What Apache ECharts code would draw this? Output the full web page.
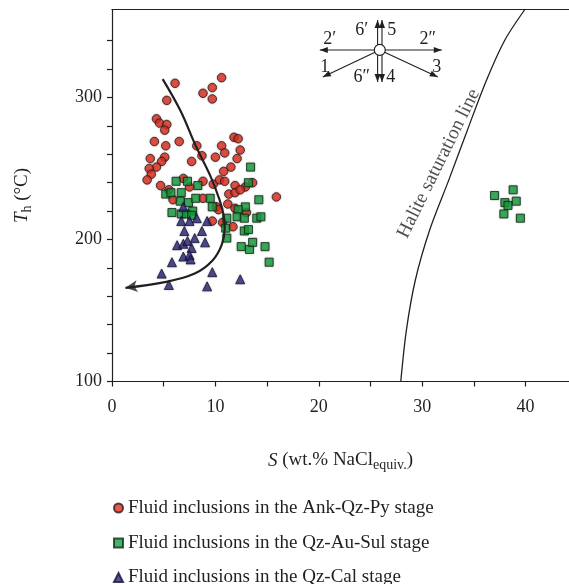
<!DOCTYPE html>
<html>
<head>
<meta charset="utf-8">
<script src="https://cdn.jsdelivr.net/npm/echarts@6/dist/echarts.min.js"></script>
<style>
  html, body { margin: 0; padding: 0; background: #ffffff; }
  #chart { width: 569px; height: 584px; }
</style>
</head>
<body>
<div id="chart"></div>
<script>
// Homogenization temperature vs. salinity of fluid inclusions, by ore stage

// Ank-Qz-Py stage: [salinity wt.% NaCl equiv., Th °C]
const ankQzPy = [
  [10.6,314],[6.1,310],[9.7,307],[8.8,303],[9.7,299],[5.3,298],[4.3,285],[4.6,282],
  [5.3,281],[5.1,277],[4.1,269],[6.5,269],[8.2,266],[5.2,266],[11.8,272],[12.2,271],
  [10.6,266],[10.9,261],[12.4,263],[3.7,257],[5.1,258],[4.8,255],[7.7,255],[8.7,259],
  [10.0,258],[12.1,257],[4.3,251],[3.6,250],[3.8,246],[11.5,251],[10.8,248],[3.4,242],
  [8.8,241],[4.7,238],[6.9,243],[9.8,239],[10.4,242],[10.9,241],[11.9,238],[12.9,237],
  [13.6,240],[7.5,237],[11.3,232],[11.9,233],[12.4,235],[5.5,235],[15.9,230],[5.9,228],
  [8.8,229],[10.1,223],[11.2,225],[11.9,222],[10.3,221],[13.0,219],[11.7,209],[10.7,212],
  [9.7,213]
];

// Qz-Au-Sul stage
const qzAuSul = [
  [13.4,251],[13.2,240],[6.2,241],[7.3,241],[8.3,238],[5.2,232],[5.7,233],[6.7,233],
  [6.6,227],[7.4,226],[8.1,229],[9.5,229],[14.2,228],[9.7,223],[12.9,223],[12.2,221],
  [5.8,219],[6.7,218],[7.2,218],[7.8,220],[7.7,217],[11.1,215],[12.1,216],[12.8,215],
  [14.0,215],[14.4,216],[11.0,208],[12.8,206],[13.2,207],[11.1,201],[12.5,195],[13.3,193],
  [13.6,198],[14.8,195],[15.2,184],
  [37.0,231],[38.8,235],[38.0,226],[38.3,224],[39.1,227],[37.9,218],[39.5,215]
];

// Qz-Cal stage
const qzCal = [
  [6.9,223],[6.7,213],[7.5,213],[8.2,215],[9.2,213],[7.0,206],[8.7,206],[8.0,201],
  [6.3,196],[6.9,197],[7.3,199],[7.7,194],[9.0,198],[6.9,188],[7.5,189],[7.6,186],
  [5.8,184],[4.8,176],[5.5,168],[9.7,177],[9.2,167],[12.4,172]
];

// Halite saturation curve
const haliteLine = [
  [27.93,100],[28.47,136],[29.34,171.5],[30.74,207],[32.58,242],[34.37,277],
  [36.21,312],[38.0,340.5],[39.93,362]
];

// Fluid evolution trend (ends with an arrow)
const evolutionPath = [
  [4.9,313],[6.6,291],[8.1,266],[9.5,245],[10.4,228],[10.8,217],[10.9,208],
  [10.6,196],[9.7,185],[8.0,176],[5.1,170],[1.3,166]
];

// Axis ticks and labels
const xTicks = [0,5,10,15,20,25,30,35,40];
const xTickLabels = [0,10,20,30,40];
const yTicks = [100,120,140,160,180,200,220,240,260,280,300,320,340];
const yTickLabels = [100,200,300];

// Legend entries
const stageNames = [
  'Fluid inclusions in the Ank-Qz-Py stage',
  'Fluid inclusions in the Qz-Au-Sul stage',
  'Fluid inclusions in the Qz-Cal stage'
];

// Anchor of the process-vector sketch and of the curve caption
const sketchAnchor = [[25.9,333.5]];
const haliteCaption = [[31.6,253.5]];

const FONT = '"Liberation Serif", "DejaVu Serif", serif';
const INK = '#231f20';
const X_MIN = 0, X_MAX = 44.2, Y_MIN = 100, Y_MAX = 362;

function drawSketch(params, api) {
  const c = api.coord([api.value(0), api.value(1)]);
  const cx = c[0], cy = c[1];
  const kids = [];
  const stroke = { stroke: INK, lineWidth: 1.1 };
  function seg(x1, y1, x2, y2) {
    kids.push({ type: 'line', shape: { x1: cx + x1, y1: cy + y1, x2: cx + x2, y2: cy + y2 }, style: stroke });
  }
  function head(fx, fy, tx, ty) {
    const dx = tx - fx, dy = ty - fy, len = Math.hypot(dx, dy);
    const ux = dx / len, uy = dy / len, L = 8, w = 3;
    const bx = tx - ux * L, by = ty - uy * L;
    kids.push({ type: 'polygon', shape: { points: [
      [cx + tx, cy + ty], [cx + bx - uy * w, cy + by + ux * w], [cx + bx + uy * w, cy + by - ux * w]
    ] }, style: { fill: INK } });
  }
  function arrow(x1, y1, x2, y2) { seg(x1, y1, x2, y2); head(x1, y1, x2, y2); }
  // horizontal arms 2' and 2''
  arrow(0, 0, -60, 0);
  arrow(0, 0, 62, 0);
  // oblique arms 1 and 3
  arrow(0, 0, -57, 27);
  arrow(0, 0, 58, 27);
  // double vertical arms 5/6' (up) and 4/6'' (down)
  [-2.2, 2.2].forEach(function (ox) {
    arrow(ox, 0, ox, -30);
    arrow(ox, 0, ox, 32);
  });
  kids.push({ type: 'circle', shape: { cx: cx, cy: cy, r: 5.5 }, style: { fill: '#ffffff', stroke: INK, lineWidth: 1.2 } });
  const labels = [
    ['2\u2032', -50, -11], ['1', -55, 17], ['6\u2032', -18, -20], ['5', 12, -20],
    ['2\u2033', 48, -11], ['3', 57, 17], ['6\u2033', -18, 27], ['4', 11, 27]
  ];
  labels.forEach(function (l) {
    kids.push({ type: 'text', x: cx + l[1], y: cy + l[2], style: {
      text: l[0], fill: INK, font: '18px ' + FONT, align: 'center', verticalAlign: 'middle'
    } });
  });
  return { type: 'group', children: kids };
}

const markerShadow = { shadowBlur: 2, shadowColor: 'rgba(0,0,0,0.3)' };
const legendIcons = ['circle', 'rect', 'triangle'];
const legendRowTop = [498.5, 533.5, 568];

const nameStyle = {
  fontFamily: FONT, fontSize: 19, color: INK,
  rich: {
    i: { fontFamily: FONT, fontSize: 19, fontStyle: 'italic', color: INK },
    sub: { fontFamily: FONT, fontSize: 14, color: INK, padding: [10, 0, 0, 0] }
  }
};

const chart = echarts.init(document.getElementById('chart'), null, { renderer: 'canvas' });

chart.setOption({
  animation: false,
  backgroundColor: '#ffffff',
  textStyle: { fontFamily: FONT, color: INK },
  grid: { left: 112, right: 0, top: 9.5, bottom: 202.5 },
  xAxis: [{
    type: 'value', min: X_MIN, max: X_MAX, position: 'bottom',
    name: '{i|S} (wt.% NaCl{sub|equiv.})',
    nameLocation: 'middle', nameGap: 67,
    nameTextStyle: nameStyle,
    splitLine: { show: false },
    axisLine: { show: true, lineStyle: { color: INK, width: 1.2 } },
    axisTick: { show: true, inside: false, length: 5, customValues: xTicks, lineStyle: { color: INK, width: 1.2 } },
    axisLabel: { show: true, customValues: xTickLabels, margin: 17, fontSize: 18, fontFamily: FONT, color: INK }
  }, {
    type: 'value', min: X_MIN, max: X_MAX, position: 'top',
    axisLine: { show: true, lineStyle: { color: INK, width: 1.2 } },
    axisTick: { show: false }, axisLabel: { show: false }, splitLine: { show: false }
  }],
  yAxis: {
    type: 'value', min: Y_MIN, max: Y_MAX,
    name: '{i|T}{sub|h} (\u00b0C)',
    nameLocation: 'middle', nameGap: 78, nameRotate: 90,
    nameTextStyle: nameStyle,
    splitLine: { show: false },
    axisLine: { show: true, lineStyle: { color: INK, width: 1.2 } },
    axisTick: { show: true, inside: false, length: 5, customValues: yTicks, lineStyle: { color: INK, width: 1.2 } },
    axisLabel: { show: true, customValues: yTickLabels, margin: 10, fontSize: 18, fontFamily: FONT, color: INK }
  },
  legend: stageNames.map(function (name, i) {
    return {
      orient: 'vertical', left: 113, top: legendRowTop[i], padding: 0,
      itemWidth: 9, itemHeight: 9,
      textStyle: { fontFamily: FONT, fontSize: 19, color: INK },
      data: [{ name: name, icon: legendIcons[i] }]
    };
  }),
  series: [
    {
      name: stageNames[0], type: 'scatter',
      symbol: 'circle', symbolSize: 8.5, data: ankQzPy,
      itemStyle: Object.assign({ color: '#e3301f', borderColor: '#2a1a1a', borderWidth: 1 }, markerShadow)
    },
    {
      name: stageNames[1], type: 'scatter',
      symbol: 'rect', symbolSize: 8, data: qzAuSul,
      itemStyle: Object.assign({ color: '#17a03e', borderColor: '#102a16', borderWidth: 1 }, markerShadow)
    },
    {
      name: stageNames[2], type: 'scatter',
      symbol: 'triangle', symbolSize: 9, data: qzCal,
      itemStyle: Object.assign({ color: '#2e2a7c', borderColor: '#15133a', borderWidth: 1 }, markerShadow)
    },
    {
      name: 'evolution', type: 'line', smooth: 0.4, silent: true,
      symbol: 'none', showSymbol: false,
      data: evolutionPath,
      lineStyle: { color: INK, width: 2.2 }
    },
    {
      name: 'evolution-arrow', type: 'scatter', silent: true,
      data: [{ value: evolutionPath[evolutionPath.length - 1] }],
      symbol: 'arrow', symbolSize: [9, 12], symbolRotate: 98,
      itemStyle: { color: INK }
    },
    {
      name: 'halite', type: 'line', smooth: 0.3, silent: true,
      symbol: 'none', showSymbol: false,
      data: haliteLine,
      lineStyle: { color: INK, width: 1.3 }
    },
    {
      name: 'halite-caption', type: 'scatter', silent: true,
      data: haliteCaption, symbolSize: 0,
      label: {
        show: true, position: 'inside', rotate: 63.7,
        formatter: 'Halite saturation line',
        fontFamily: FONT, fontSize: 19.5, color: INK
      }
    },
    {
      name: 'vectors', type: 'custom', silent: true,
      data: sketchAnchor, renderItem: drawSketch, clip: false
    }
  ]
});
</script>
</body>
</html>
